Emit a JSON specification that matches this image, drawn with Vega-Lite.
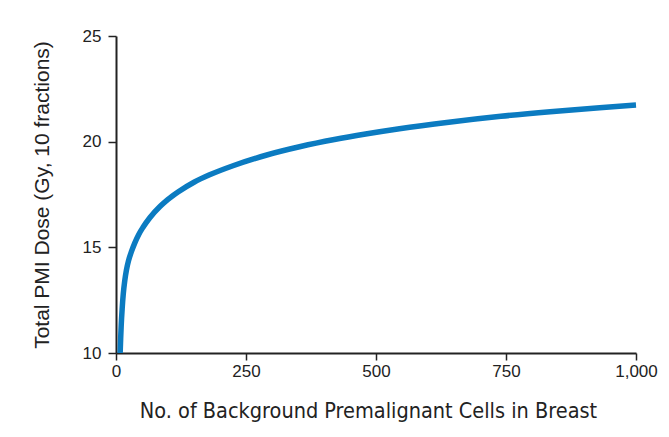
{
  "$schema": "https://vega.github.io/schema/vega-lite/v6.json",
  "autosize": "none",
  "width": 520,
  "height": 317,
  "padding": {"left": 116, "top": 36, "right": 33, "bottom": 84},
  "background": "white",
  "config": {"view": {"stroke": null}},
  "data": {"values": [
    {"n": 8, "dose": 10.0},
    {"n": 9, "dose": 10.7},
    {"n": 10, "dose": 11.3},
    {"n": 12, "dose": 12.15},
    {"n": 14, "dose": 12.8},
    {"n": 17, "dose": 13.45},
    {"n": 20, "dose": 13.92},
    {"n": 24, "dose": 14.36},
    {"n": 30, "dose": 14.82},
    {"n": 36, "dose": 15.2},
    {"n": 44, "dose": 15.62},
    {"n": 52, "dose": 15.95},
    {"n": 65, "dose": 16.4},
    {"n": 85, "dose": 16.94},
    {"n": 100, "dose": 17.27},
    {"n": 120, "dose": 17.63},
    {"n": 150, "dose": 18.08},
    {"n": 180, "dose": 18.43},
    {"n": 225, "dose": 18.86},
    {"n": 290, "dose": 19.37},
    {"n": 355, "dose": 19.77},
    {"n": 420, "dose": 20.1},
    {"n": 480, "dose": 20.36},
    {"n": 545, "dose": 20.61},
    {"n": 640, "dose": 20.92},
    {"n": 740, "dose": 21.2},
    {"n": 835, "dose": 21.42},
    {"n": 930, "dose": 21.61},
    {"n": 1000, "dose": 21.73}
  ]},
  "mark": {"type": "line", "color": "#0b7bc1", "strokeWidth": 5.5, "interpolate": "monotone", "strokeCap": "butt"},
  "encoding": {
    "x": {
      "field": "n", "type": "quantitative",
      "scale": {"domain": [0, 1000], "nice": false, "zero": false},
      "axis": {
        "values": [0, 250, 500, 750, 1000],
        "format": ",.0f",
        "title": "No. of Background Premalignant Cells in Breast",
        "grid": false,
        "domainColor": "#222", "domainWidth": 2,
        "tickColor": "#222", "tickWidth": 1.5, "tickSize": 7,
        "labelFont": "Liberation Sans", "labelFontSize": 17, "labelColor": "#222", "labelPadding": 3,
        "labelFlush": false,
        "titleFont": "DejaVu Sans Condensed, Liberation Sans", "titleFontSize": 21.5, "titleFontWeight": "normal", "titleColor": "#222", "titlePadding": 21,
        "titleX": 252
      }
    },
    "y": {
      "field": "dose", "type": "quantitative",
      "scale": {"domain": [10, 25], "nice": false, "zero": false},
      "axis": {
        "values": [10, 15, 20, 25],
        "title": "Total PMI Dose (Gy, 10 fractions)",
        "grid": false,
        "domainColor": "#222", "domainWidth": 2,
        "tickColor": "#222", "tickWidth": 1.5, "tickSize": 8,
        "labelFont": "Liberation Sans", "labelFontSize": 17, "labelColor": "#222", "labelPadding": 7,
        "titleFont": "Liberation Sans", "titleFontSize": 21, "titleFontWeight": "normal", "titleColor": "#222", "titlePadding": 30
      }
    }
  }
}
